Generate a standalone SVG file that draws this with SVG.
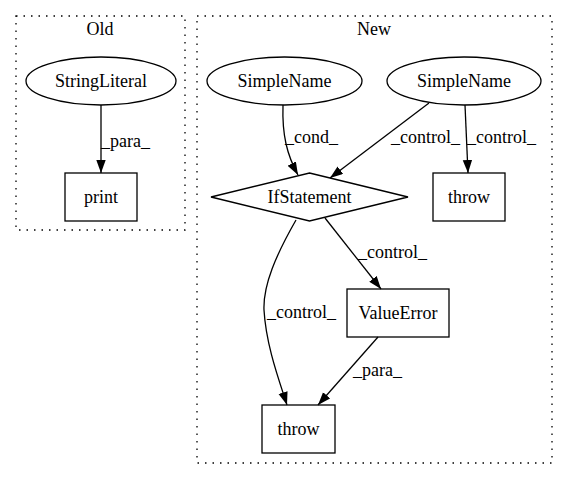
<svg xmlns="http://www.w3.org/2000/svg" width="568" height="480" viewBox="0 0 568 480">
<style>
text{font-family:"Liberation Serif","Times New Roman",serif;font-size:18px;fill:#000}
.c{text-anchor:middle}
.cl{fill:none;stroke:#000;stroke-width:1.3;stroke-dasharray:1.5,6}
.n{fill:none;stroke:#000;stroke-width:1.3}
.e{fill:none;stroke:#000;stroke-width:1.3;marker-end:url(#ah)}
</style>
<defs>
<marker id="ah" markerUnits="userSpaceOnUse" markerWidth="14" markerHeight="10" refX="13" refY="4.7" orient="auto">
<path d="M0,0 L13,4.7 L0,9.4 z" fill="#000"/>
</marker>
</defs>
<rect width="568" height="480" fill="#fff"/>
<g id="cluster_old">
<rect class="cl" x="16" y="16" width="169" height="214"/>
<text class="c" x="100" y="35">Old</text>
</g>
<g id="cluster_new">
<rect class="cl" x="197" y="16" width="355" height="447"/>
<text class="c" x="374" y="35">New</text>
</g>
<g id="connectors">
<path class="e" d="M101,105 L101,173"/>
<text x="101" y="147">_para_</text>
<path class="e" d="M283,105 C282,135 287,155 298,175"/>
<text x="285" y="143">_cond_</text>
<path class="e" d="M429,103 L330,178"/>
<text x="391" y="143">_control_</text>
<path class="e" d="M465,105 L468,173"/>
<text x="467" y="143">_control_</text>
<path class="e" d="M325,218 L381,289"/>
<text x="358" y="258">_control_</text>
<path class="e" d="M296,220 C276,255 263,285 264,310 C266,345 279,380 287,405"/>
<text x="267" y="318">_control_</text>
<path class="e" d="M378,337 L318,405"/>
<text x="353" y="376">_para_</text>
</g>
<g id="StringLiteral">
<ellipse class="n" cx="101" cy="81" rx="75" ry="24"/>
<text class="c" x="101" y="87">StringLiteral</text>
</g>
<g id="print">
<rect class="n" x="65" y="173" width="72" height="48"/>
<text class="c" x="101" y="203">print</text>
</g>
<g id="SimpleName1">
<ellipse class="n" cx="284.5" cy="81" rx="77.5" ry="24"/>
<text class="c" x="284.5" y="87">SimpleName</text>
</g>
<g id="SimpleName2">
<ellipse class="n" cx="464" cy="81" rx="77" ry="24"/>
<text class="c" x="464" y="87">SimpleName</text>
</g>
<g id="IfStatement">
<polygon class="n" points="309.5,173 408,197 309.5,221 211,197"/>
<text class="c" x="309.5" y="203">IfStatement</text>
</g>
<g id="throw1">
<rect class="n" x="433" y="173" width="72" height="48"/>
<text class="c" x="469" y="203">throw</text>
</g>
<g id="ValueError">
<rect class="n" x="347" y="289" width="102" height="48"/>
<text class="c" x="398" y="319">ValueError</text>
</g>
<g id="throw2">
<rect class="n" x="262" y="405" width="73" height="48"/>
<text class="c" x="298.5" y="435">throw</text>
</g>
</svg>
